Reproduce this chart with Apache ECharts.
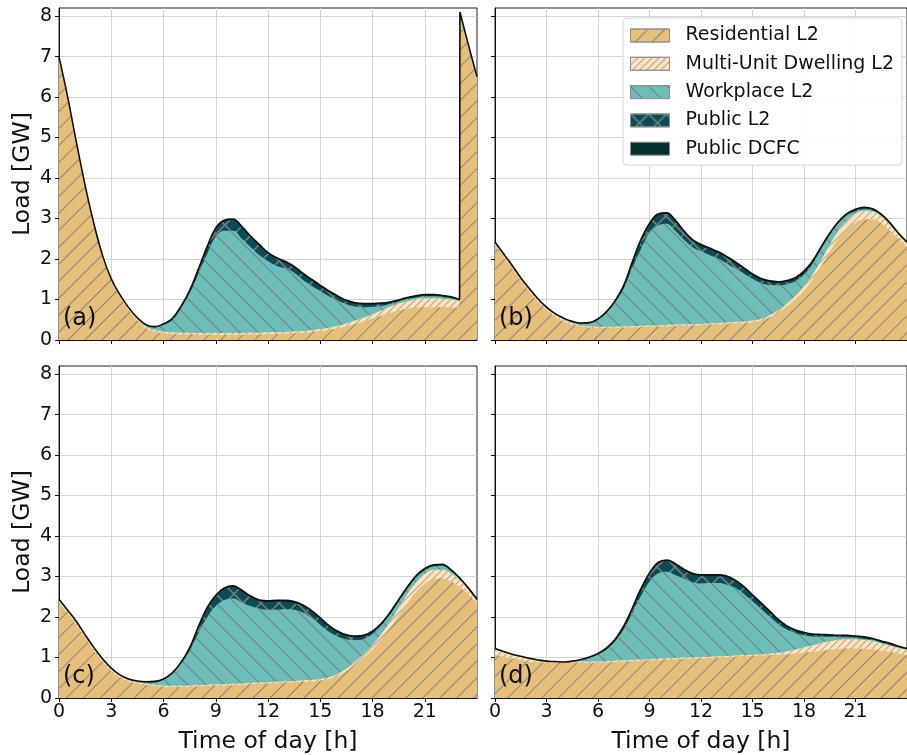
<!DOCTYPE html>
<html><head><meta charset="utf-8">
<script src="https://cdn.jsdelivr.net/npm/echarts@6/dist/echarts.min.js"></script>
<style>html,body{margin:0;padding:0;background:#fff}#c{width:907px;height:755px}</style>
</head><body><div id="c"></div>
<script>
// ---------------- DATA ----------------
const seriesNames = ['Residential L2','Multi-Unit Dwelling L2','Workplace L2','Public L2','Public DCFC'];
const panelLabels = ['(a)','(b)','(c)','(d)'];
const xTicks = [0,3,6,9,12,15,18,21];
const yTicks = [0,1,2,3,4,5,6,7,8];

// panel (a): half-hourly, with the jump just after 23 h
const hoursA = [0,0.5,1,1.5,2,2.5,3,3.5,4,4.5,5,5.5,6,6.5,7,7.5,8,8.5,9,9.5,10,10.5,11,11.5,12,12.5,13,13.5,14,14.5,15,15.5,16,16.5,17,17.5,18,18.5,19,19.5,20,20.5,21,21.5,22,22.5,23,23.02,23.5,24];
const aRes  = [6.97,5.97,4.85,3.79,2.85,2.05,1.46,1.07,0.75,0.49,0.29,0.21,0.17,0.15,0.14,0.14,0.13,0.13,0.13,0.13,0.13,0.13,0.14,0.14,0.15,0.15,0.16,0.17,0.18,0.20,0.22,0.25,0.29,0.34,0.40,0.46,0.53,0.60,0.67,0.73,0.77,0.80,0.81,0.81,0.81,0.81,0.80,8.05,7.25,6.45];
const aMud  = [0.03,0.03,0.03,0.03,0.03,0.03,0.03,0.03,0.03,0.03,0.04,0.04,0.04,0.04,0.04,0.04,0.04,0.04,0.04,0.04,0.04,0.04,0.04,0.04,0.04,0.04,0.04,0.04,0.04,0.04,0.05,0.05,0.06,0.07,0.08,0.09,0.11,0.13,0.15,0.17,0.19,0.21,0.22,0.22,0.21,0.19,0.16,0.05,0.05,0.05];
const aWork = [0,0,0,0,0,0,0.01,0.01,0.01,0.02,0.03,0.06,0.16,0.30,0.60,0.97,1.46,1.95,2.38,2.53,2.53,2.33,2.12,1.92,1.76,1.64,1.57,1.45,1.27,1.10,0.94,0.78,0.63,0.47,0.35,0.26,0.18,0.11,0.07,0.05,0.05,0.04,0.05,0.05,0.04,0.03,0.02,0,0,0];
const aPubL2= [0,0,0,0,0,0.01,0.01,0.01,0.01,0.01,0.01,0.01,0.02,0.03,0.04,0.05,0.10,0.16,0.19,0.23,0.26,0.27,0.24,0.23,0.18,0.17,0.14,0.13,0.13,0.13,0.11,0.10,0.08,0.07,0.06,0.06,0.05,0.05,0.03,0.02,0.02,0.02,0.02,0.02,0.02,0.02,0.01,0,0,0];
const aDcfc = [0,0,0,0,0,0,0,0,0,0,0.01,0.01,0.01,0.01,0.01,0.02,0.02,0.02,0.03,0.03,0.03,0.03,0.03,0.03,0.03,0.03,0.03,0.03,0.03,0.03,0.03,0.03,0.03,0.03,0.03,0.03,0.03,0.02,0.02,0.02,0.02,0.02,0.02,0.02,0.02,0.02,0.01,0,0,0];

// panels (b)-(d): half-hourly
const hours = [0,0.5,1,1.5,2,2.5,3,3.5,4,4.5,5,5.5,6,6.5,7,7.5,8,8.5,9,9.5,10,10.5,11,11.5,12,12.5,13,13.5,14,14.5,15,15.5,16,16.5,17,17.5,18,18.5,19,19.5,20,20.5,21,21.5,22,22.5,23,23.5,24];
// panel (b)
const bRes  = [2.35,2.06,1.77,1.47,1.20,0.95,0.74,0.58,0.46,0.38,0.33,0.31,0.30,0.30,0.30,0.31,0.31,0.32,0.33,0.33,0.34,0.35,0.36,0.36,0.37,0.38,0.39,0.40,0.41,0.42,0.44,0.48,0.56,0.68,0.83,1.01,1.22,1.50,1.82,2.17,2.50,2.75,2.90,2.98,2.98,2.88,2.70,2.50,2.30];
const bMud  = [0.05,0.05,0.05,0.05,0.05,0.05,0.05,0.05,0.04,0.04,0.03,0.03,0.03,0.03,0.03,0.03,0.03,0.03,0.03,0.03,0.03,0.03,0.03,0.03,0.03,0.03,0.03,0.03,0.04,0.04,0.04,0.04,0.05,0.06,0.07,0.08,0.10,0.12,0.15,0.18,0.20,0.21,0.22,0.21,0.20,0.17,0.14,0.11,0.08];
const bWork = [0.01,0.01,0.01,0.01,0.01,0.01,0.01,0.01,0.03,0.03,0.04,0.07,0.17,0.34,0.60,0.94,1.44,1.90,2.28,2.47,2.50,2.32,2.09,1.91,1.79,1.69,1.59,1.46,1.32,1.18,1.03,0.89,0.75,0.61,0.48,0.37,0.30,0.26,0.28,0.24,0.17,0.11,0.06,0.04,0.02,0.02,0.02,0.02,0.02];
const bPubL2= [0.01,0.01,0.01,0.01,0.01,0.01,0.01,0.01,0.01,0.01,0.01,0.01,0.01,0.02,0.03,0.05,0.13,0.21,0.21,0.25,0.24,0.23,0.19,0.15,0.14,0.14,0.14,0.14,0.13,0.11,0.09,0.08,0.07,0.06,0.06,0.05,0.05,0.05,0.03,0.03,0.03,0.03,0.03,0.03,0.02,0.02,0.02,0.01,0.01];
const bDcfc = [0,0,0,0,0,0,0,0,0,0,0.01,0.01,0.01,0.01,0.01,0.02,0.02,0.02,0.03,0.03,0.03,0.03,0.03,0.03,0.03,0.03,0.03,0.03,0.03,0.03,0.03,0.03,0.03,0.03,0.03,0.03,0.03,0.02,0.02,0.02,0.02,0.02,0.02,0.02,0.02,0.02,0.02,0,0.01];
// panel (c)
const cRes  = [2.35,2.09,1.80,1.48,1.17,0.89,0.66,0.51,0.41,0.36,0.33,0.30,0.28,0.27,0.27,0.28,0.29,0.30,0.31,0.31,0.32,0.33,0.34,0.35,0.36,0.37,0.38,0.39,0.40,0.41,0.43,0.47,0.55,0.66,0.82,1.00,1.20,1.45,1.72,2.03,2.35,2.62,2.82,2.93,2.95,2.88,2.75,2.56,2.33];
const cMud  = [0.06,0.06,0.05,0.05,0.05,0.05,0.04,0.04,0.03,0.03,0.03,0.03,0.03,0.03,0.03,0.03,0.03,0.03,0.03,0.03,0.03,0.03,0.03,0.03,0.03,0.03,0.03,0.03,0.04,0.04,0.04,0.04,0.05,0.06,0.08,0.09,0.11,0.13,0.16,0.19,0.22,0.23,0.24,0.24,0.22,0.20,0.16,0.12,0.07];
const cWork = [0.01,0.01,0.02,0.01,0.01,0.01,0.02,0.01,0.02,0.02,0.02,0.05,0.14,0.29,0.54,0.86,1.28,1.66,1.93,2.08,2.11,2.00,1.90,1.83,1.79,1.78,1.78,1.76,1.67,1.53,1.34,1.13,0.92,0.73,0.53,0.37,0.27,0.21,0.18,0.16,0.12,0.12,0.09,0.08,0.09,0.06,0.03,0.02,0.02];
const cPubL2= [0.01,0.01,0.01,0.01,0.01,0.01,0.01,0.01,0.01,0.01,0.01,0.02,0.01,0.02,0.03,0.05,0.14,0.22,0.24,0.27,0.28,0.27,0.22,0.18,0.19,0.20,0.19,0.17,0.16,0.15,0.14,0.12,0.10,0.08,0.07,0.06,0.05,0.03,0.03,0.03,0.03,0.03,0.03,0.02,0.02,0.02,0.02,0.02,0.01];
const cDcfc = [0.01,0,0.01,0.01,0.01,0.01,0.01,0,0,0,0.01,0.01,0.01,0.01,0.01,0.02,0.02,0.02,0.03,0.03,0.03,0.03,0.03,0.03,0.03,0.03,0.03,0.03,0.03,0.03,0.03,0.03,0.03,0.03,0.03,0.03,0.02,0.02,0.02,0.02,0.02,0.02,0.02,0.02,0.02,0.01,0.01,0,0.01];
// panel (d)
const dRes  = [1.06,1.02,0.98,0.94,0.90,0.88,0.87,0.87,0.87,0.87,0.87,0.87,0.87,0.88,0.89,0.90,0.91,0.92,0.93,0.94,0.95,0.96,0.97,0.97,0.98,0.99,1.00,1.01,1.02,1.03,1.04,1.05,1.06,1.07,1.08,1.10,1.12,1.14,1.17,1.19,1.21,1.22,1.22,1.21,1.20,1.17,1.14,1.10,1.06];
const dMud  = [0.14,0.11,0.09,0.07,0.06,0.04,0.03,0.02,0.02,0.02,0.03,0.03,0.03,0.03,0.03,0.03,0.03,0.03,0.03,0.03,0.03,0.03,0.03,0.03,0.03,0.03,0.03,0.03,0.03,0.03,0.03,0.03,0.04,0.05,0.07,0.10,0.13,0.16,0.19,0.21,0.23,0.23,0.23,0.22,0.21,0.18,0.15,0.14,0.14];
const dWork = [0.01,0.01,0.01,0.01,0.01,0.01,0.01,0.01,0,0.02,0.03,0.09,0.18,0.29,0.48,0.77,1.16,1.57,1.92,2.11,2.14,2.05,1.95,1.86,1.82,1.82,1.81,1.76,1.67,1.51,1.32,1.12,0.91,0.71,0.54,0.40,0.30,0.22,0.15,0.11,0.06,0.05,0.03,0.03,0.02,0.02,0.02,0.01,0.01];
const dPubL2= [0.01,0.01,0,0.01,0.01,0.01,0,0,0,0,0.01,0.01,0.01,0.03,0.04,0.06,0.10,0.16,0.18,0.24,0.26,0.25,0.20,0.19,0.18,0.17,0.17,0.18,0.16,0.15,0.13,0.12,0.11,0.08,0.06,0.05,0.05,0.04,0.04,0.03,0.03,0.03,0.03,0.03,0.02,0.02,0.03,0.02,0.01];
const dDcfc = [0,0,0,0,0,0,0,0,0,0,0.01,0.01,0.01,0.01,0.01,0.02,0.02,0.02,0.03,0.03,0.03,0.03,0.03,0.03,0.03,0.03,0.03,0.03,0.03,0.03,0.03,0.03,0.03,0.03,0.03,0.03,0.02,0.02,0.02,0.02,0.02,0.02,0.02,0.02,0.02,0.02,0.01,0.01,0];

// ---------------- STYLE ----------------
const FONT = 'DejaVu Sans';
const COLORS = ['#e6c07b','#fde3bd','#6dbdb9','#0b4b55','#04302d'];
function hatch(angle, gap, color){
  return {symbol:'rect', symbolSize:1, color:color, dashArrayX:[1,0], dashArrayY:[1,gap], rotation:angle};
}
const CROSS = {
  symbol:'path://M0,0L1.2,0L18,16.8L18,18L16.8,18L0,1.2ZM16.8,0L18,0L18,1.2L1.2,18L0,18L0,16.8Z',
  symbolSize:1, color:'rgba(135,135,135,0.8)', dashArrayX:[18,0], dashArrayY:[18,0], rotation:0
};
const DECALS = [
  hatch(-Math.PI/4, 11, 'rgba(120,120,120,0.85)'),
  hatch(-Math.PI/4, 4, 'rgba(150,140,130,0.75)'),
  hatch(Math.PI/4, 12, 'rgba(110,110,110,0.8)'),
  CROSS,
  null
];

const panels = [
  {hours: hoursA, arrs:[aRes,aMud,aWork,aPubL2,aDcfc]},
  {hours: hours,  arrs:[bRes,bMud,bWork,bPubL2,bDcfc]},
  {hours: hours,  arrs:[cRes,cMud,cWork,cPubL2,cDcfc]},
  {hours: hours,  arrs:[dRes,dMud,dWork,dPubL2,dDcfc]}
];
const grids = [
  {left:59, top:8, width:418, height:332},
  {left:495, top:8, width:419, height:332},
  {left:59, top:366, width:418, height:332},
  {left:495, top:366, width:419, height:332}
];

const xAxes = [], yAxes = [], series = [];
grids.forEach((g, i) => {
  const bottom = i >= 2, left = (i % 2) === 0;
  xAxes.push({
    type:'value', gridIndex:i, min:0, max:24, interval:3,
    name: bottom ? 'Time of day [h]' : '', nameLocation:'middle', nameGap:32,
    nameTextStyle:{fontSize:23.5, color:'#111', fontFamily:FONT},
    axisLine:{show:true, onZero:false, lineStyle:{color:'#111', width:1}},
    axisTick:{show:true, length:4, lineStyle:{color:'#111'}, customValues: xTicks},
    axisLabel:{show:bottom, fontSize:19, color:'#111', fontFamily:FONT, margin:5, customValues: xTicks},
    splitLine:{show:true, lineStyle:{color:'#d4d4d4', width:1}}
  });
  yAxes.push({
    type:'value', gridIndex:i, min:0, max:8.2, interval:1,
    name: left ? 'Load [GW]' : '', nameLocation:'middle', nameGap:24,
    nameTextStyle:{fontSize:23.5, color:'#111', fontFamily:FONT},
    axisLine:{show:true, lineStyle:{color:'#111', width:1}},
    axisTick:{show:true, length:4, lineStyle:{color:'#111'}, customValues: yTicks},
    axisLabel:{show:left, fontSize:19, color:'#111', fontFamily:FONT, margin:7, customValues: yTicks},
    splitLine:{show:true, lineStyle:{color:'#d4d4d4', width:1}}
  });
  const p = panels[i];
  // cumulative layers (stacking done here, values from the arrays above)
  const cum = [];
  p.arrs.forEach((arr, k) => {
    cum.push(arr.map((v, j) => +(v + (k > 0 ? cum[k-1][j] : 0)).toFixed(4)));
  });
  // draw top layer first so lower layers overlay it
  for (let k = 4; k >= 0; k--) {
    const dec = DECALS[k];
    series.push({
      name: seriesNames[k], type:'line', xAxisIndex:i, yAxisIndex:i,
      data: p.hours.map((h, j) => [h, cum[k][j]]),
      smooth:0.4, symbol:'none', showSymbol:false, silent:true,
      lineStyle: Object.assign({width:0, color:COLORS[k]}, dec ? {decal:dec} : {}),
      itemStyle: Object.assign({color: COLORS[k]}, dec ? {decal:dec} : {}),
      areaStyle: {color: COLORS[k], opacity:1},
      z: 2
    });
  }
  // black outline of the total
  series.push({
    name:'Total', type:'line', xAxisIndex:i, yAxisIndex:i,
    data: p.hours.map((h, j) => [h, cum[4][j]]),
    smooth:0.4, symbol:'none', showSymbol:false, silent:true,
    lineStyle:{color:'#111', width:1.6}, z:3
  });
});

const graphics = panelLabels.map((t, i) => ({
  type:'text', left: grids[i].left + 4, top: grids[i].top + grids[i].height - 33,
  style:{text:t, font:'24px "DejaVu Sans"', fill:'#111'}, z:10
}));

const chart = echarts.init(document.getElementById('c'), null, {renderer:'canvas', width:907, height:755});
chart.setOption({
  animation:false,
  backgroundColor:'#fff',
  grid: grids.map(g => Object.assign({show:true, borderColor:'#222', borderWidth:1, backgroundColor:'rgba(0,0,0,0)'}, g)),
  xAxis: xAxes, yAxis: yAxes, series: series,
  legend: {
    orient:'vertical', left:623, top:18, data: seriesNames, icon:'rect',
    itemWidth:39, itemHeight:13, itemGap:9.3, padding:[8,8,7,7],
    backgroundColor:'rgba(255,255,255,0.92)', borderColor:'#d6d6d6', borderWidth:1, borderRadius:4,
    textStyle:{fontSize:19, color:'#111', fontFamily:FONT, padding:[0,0,0,11]},
    itemStyle:{borderColor:'#8f8f8f', borderWidth:1},
    selectedMode:false
  },
  graphic: graphics
});
</script></body></html>
